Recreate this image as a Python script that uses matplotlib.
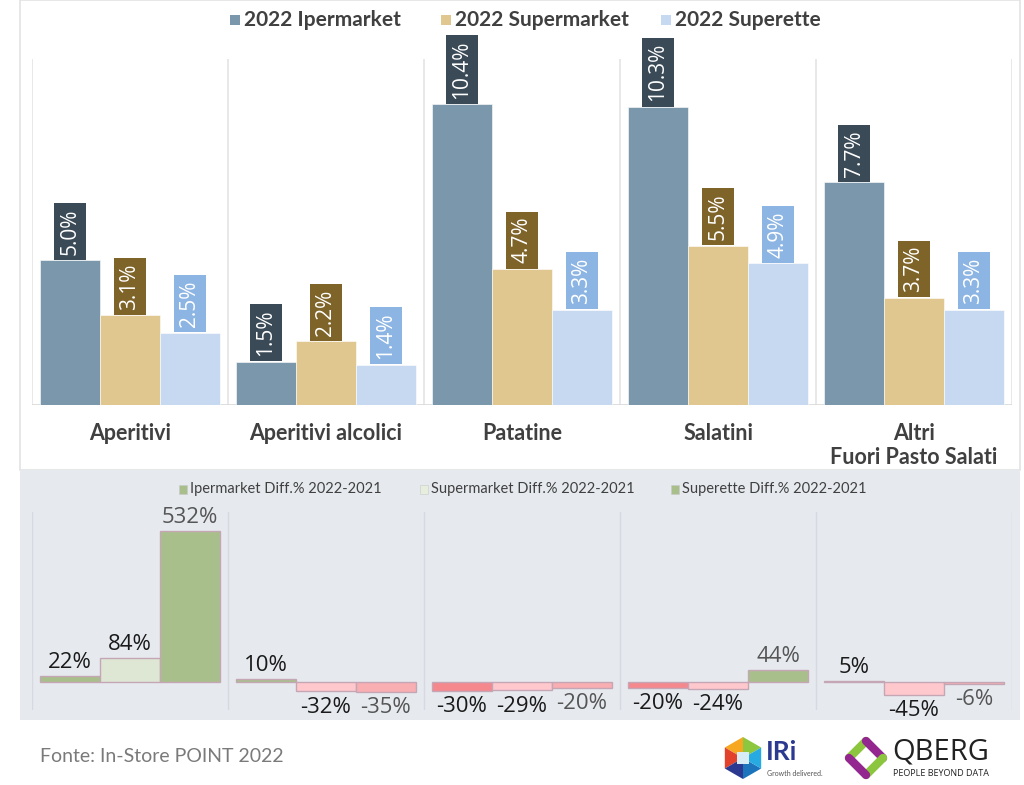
import matplotlib
matplotlib.use("Agg")
import matplotlib.pyplot as plt
from matplotlib.patches import Rectangle, Polygon
import numpy as np

categories = ["Aperitivi", "Aperitivi alcolici", "Patatine", "Salatini", "Altri\nFuori Pasto Salati"]
iper = [5.0, 1.5, 10.4, 10.3, 7.7]
superm = [3.1, 2.2, 4.7, 5.5, 3.7]
superette = [2.5, 1.4, 3.3, 4.9, 3.3]
series_names = ["2022 Ipermarket", "2022 Supermarket", "2022 Superette"]

diff_iper = [22, 10, -30, -20, 5]
diff_super = [84, -32, -29, -24, -45]
diff_superette = [532, -35, -20, 44, -6]
diff_names = ["Ipermarket Diff.% 2022-2021", "Supermarket Diff.% 2022-2021", "Superette Diff.% 2022-2021"]

W, H = 1024, 785
fig = plt.figure(figsize=(W / 100, H / 100), dpi=100)
fig.patch.set_facecolor("white")


def fx(x):
    return x / W


def fy(y):
    return 1 - y / H


def add_ax(x0, y0, x1, y1, **kw):
    return fig.add_axes([fx(x0), fy(y1), fx(x1) - fx(x0), fy(y0) - fy(y1)], **kw)


# Panels
fig.patches.append(Rectangle((fx(20), fy(470)), fx(1000), (470) / H, transform=fig.transFigure,
                             facecolor="white", edgecolor="#e3e3e3", lw=1.2, zorder=-2))
fig.patches.append(Rectangle((fx(20), fy(720)), fx(1000), (720 - 470) / H, transform=fig.transFigure,
                             facecolor="#e6eaef", edgecolor="none", zorder=-1))

LBL_FONT = ["Open Sans", "DejaVu Sans"]
HEAD_FONT = ["Lato", "DejaVu Sans"]

x = np.arange(len(categories))
off = 0.306
bw = 0.305

# ---------------- top chart ----------------
ax = add_ax(32, 59, 1012, 405)
ax.set_xlim(-0.5, len(categories) - 0.5)
ax.set_ylim(0, 11.97)
ax.patch.set_alpha(0)
for s in ax.spines.values():
    s.set_visible(False)
ax.axhline(0, color="#d9d9d9", lw=1.2, zorder=1)
for b in np.arange(-0.5, len(categories), 1.0):
    ax.axvline(b, color="#e4e4e4", lw=1.2, zorder=0)

top_colors = ["#7b97ab", "#dfc78f", "#c6d9f0"]
box_colors = ["#3a4a57", "#7f6429", "#8db5e3"]
for k, vals in enumerate([iper, superm, superette]):
    xs = x + (k - 1) * off
    ax.bar(xs, vals, width=bw, color=top_colors[k], edgecolor="white", lw=0.4, zorder=2)
    for xi, v in zip(xs, vals):
        ax.annotate(f"{v:.1f}%", (xi, v), xytext=(0, 4.2), textcoords="offset points",
                    rotation=90, ha="center", va="bottom", color="white", fontsize=15,
                    family=LBL_FONT,
                    bbox=dict(boxstyle="square,pad=0.25", fc=box_colors[k], ec="none"), zorder=3)

ax.set_xticks(x)
ax.set_xticklabels(categories, fontsize=15.5, fontweight="bold", color="#404040",
                   family=HEAD_FONT, linespacing=1.15, va="top")
ax.tick_params(axis="x", length=0, pad=13)
ax.set_yticks([])

# top legend
leg_x = [230, 441, 661]
for lx, name, col in zip(leg_x, series_names, top_colors):
    fig.patches.append(Rectangle((fx(lx), fy(25)), 10 / W, 10 / H, transform=fig.transFigure,
                                 facecolor=col, edgecolor="none"))
    fig.text(fx(lx + 14), fy(20), name, fontsize=15, fontweight="bold", color="#404040",
             family=HEAD_FONT, va="center", ha="left")

# ---------------- bottom chart ----------------
bx = add_ax(32, 512, 1012, 710)
bx.set_xlim(-0.5, len(categories) - 0.5)
bx.set_ylim(-98.6, 598.6)
bx.patch.set_alpha(0)
for s in bx.spines.values():
    s.set_visible(False)
for b in np.arange(-0.5, len(categories), 1.0):
    bx.axvline(b, color="#d6dae0", lw=1.0, zorder=0)
bx.set_xticks([])
bx.set_yticks([])

pos_colors = ["#a8bf8c", "#dde7d4", "#a8bf8c"]
neg_colors = ["#f4888d", "#ffc8cc", "#f9aeb2"]
lbl_colors = ["#1a1a1a", "#1a1a1a", "#555555"]
for k, vals in enumerate([diff_iper, diff_super, diff_superette]):
    xs = x + (k - 1) * off
    cols = [pos_colors[k] if v >= 0 else neg_colors[k] for v in vals]
    bx.bar(xs, vals, width=bw, color=cols, edgecolor="#c4a6b4", lw=1.0, zorder=2)
    for xi, v in zip(xs, vals):
        if v >= 0:
            bx.annotate(f"{v}%", (xi, v), xytext=(0, 2), textcoords="offset points",
                        ha="center", va="bottom", fontsize=16, color=lbl_colors[k], family=LBL_FONT)
        else:
            bx.annotate(f"{v}%", (xi, v), xytext=(0, -4), textcoords="offset points",
                        ha="center", va="top", fontsize=16, color=lbl_colors[k], family=LBL_FONT)

diff_leg_colors = ["#a8bf8c", "#e8eede", "#a8bf8c"]
dleg_x = [179, 420, 671]
for lx, name, col in zip(dleg_x, diff_names, diff_leg_colors):
    fig.patches.append(Rectangle((fx(lx), fy(494)), 8 / W, 9 / H, transform=fig.transFigure,
                                 facecolor=col, edgecolor="#c9c9c9", lw=0.4))
    fig.text(fx(lx + 11), fy(489), name, fontsize=10.5, color="#404040",
             family=["Liberation Sans Narrow", "Lato", "DejaVu Sans"], va="center", ha="left")

# footer
fig.text(fx(40), fy(757), "Fonte: In-Store POINT 2022", fontsize=14, color="#7a7a7a",
         family=HEAD_FONT, va="center", ha="left")

# IRi logo (approximation)
cx, cy, r = 743, 758, 21
ang = np.deg2rad(np.arange(6) * 60 + 30)
hx = cx + r * np.cos(ang)
hy = cy - r * np.sin(ang)
seg_cols = ["#8dc63f", "#f7a823", "#e2412c", "#2b3990", "#1c75bc", "#27aae1"]
for i in range(6):
    j = (i + 1) % 6
    pts = [(fx(cx), fy(cy)), (fx(hx[i]), fy(hy[i])), (fx(hx[j]), fy(hy[j]))]
    fig.patches.append(Polygon(pts, closed=True, transform=fig.transFigure,
                               facecolor=seg_cols[i], edgecolor="none"))
fig.patches.append(Polygon([(fx(cx - 6), fy(cy - 6)), (fx(cx + 6), fy(cy - 6)),
                            (fx(cx + 6), fy(cy + 6)), (fx(cx - 6), fy(cy + 6))], closed=True,
                           transform=fig.transFigure, facecolor="#d7ecf5", edgecolor="none"))
fig.text(fx(766), fy(752), "IRi", fontsize=19, fontweight="bold", color="#2b3990",
         family=HEAD_FONT, va="center", ha="left")
fig.text(fx(767), fy(773), "Growth delivered.", fontsize=5, color="#555555",
         family=HEAD_FONT, va="center", ha="left")

# QBERG logo (approximation)
qc_x, qc_y = 866, 758
d = 17
fig.lines.append(plt.Line2D([fx(qc_x - d), fx(qc_x)], [fy(qc_y), fy(qc_y - d)], transform=fig.transFigure,
                            color="#8cc63f", lw=6, solid_capstyle="round"))
fig.lines.append(plt.Line2D([fx(qc_x), fx(qc_x + d)], [fy(qc_y - d), fy(qc_y)], transform=fig.transFigure,
                            color="#93278f", lw=6, solid_capstyle="round"))
fig.lines.append(plt.Line2D([fx(qc_x + d), fx(qc_x)], [fy(qc_y), fy(qc_y + d)], transform=fig.transFigure,
                            color="#8cc63f", lw=6, solid_capstyle="round"))
fig.lines.append(plt.Line2D([fx(qc_x), fx(qc_x - d)], [fy(qc_y + d), fy(qc_y)], transform=fig.transFigure,
                            color="#93278f", lw=6, solid_capstyle="round"))
fig.text(fx(892), fy(752), "QBERG", fontsize=21, color="#222222",
         family=["Open Sans", "DejaVu Sans"], va="center", ha="left")
fig.text(fx(893), fy(774), "PEOPLE BEYOND DATA", fontsize=6.5, color="#222222",
         family=["Open Sans", "DejaVu Sans"], va="center", ha="left")

fig.savefig("out.png", dpi=100, facecolor="white")
